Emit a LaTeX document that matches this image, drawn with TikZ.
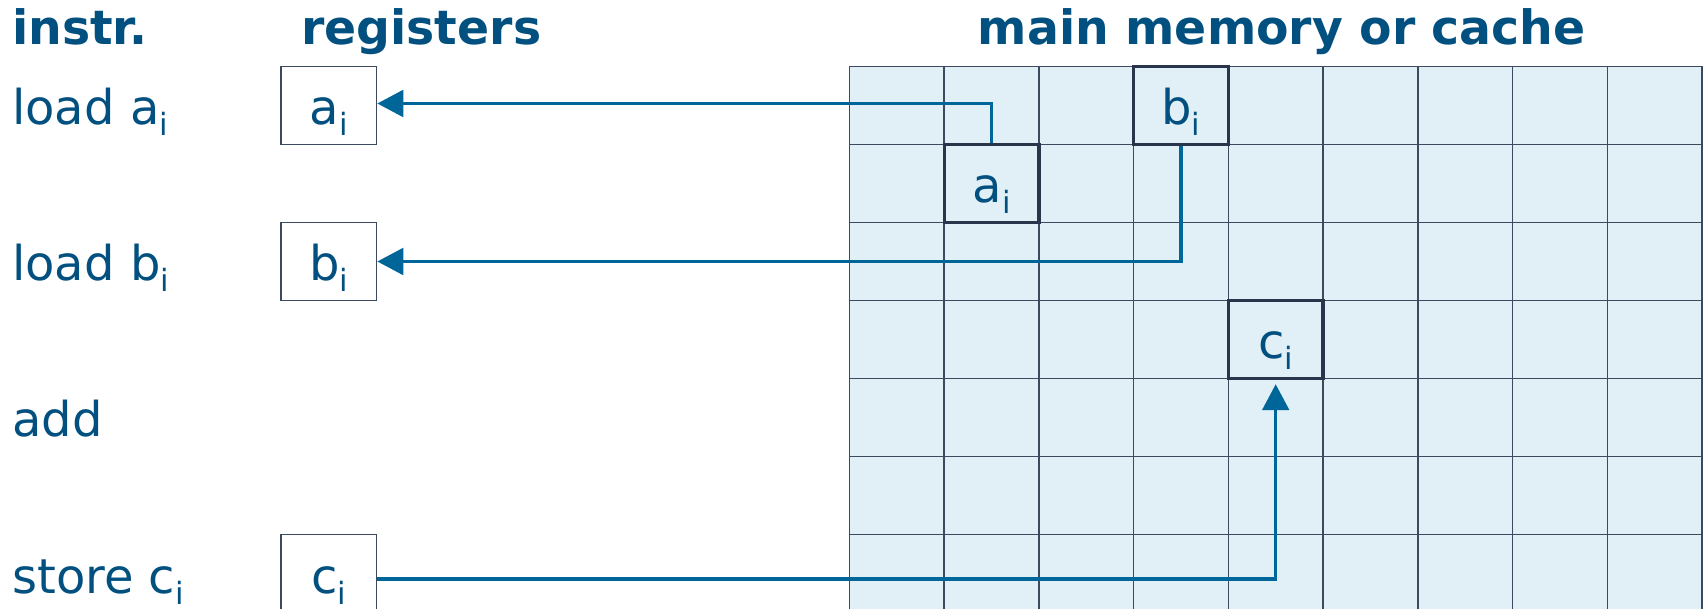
\documentclass[tikz,border=0pt]{standalone}
\usepackage{fontspec}
\setmainfont{DejaVu Sans}
\usetikzlibrary{arrows.meta}
\definecolor{txt}{HTML}{02507F}
\definecolor{arrc}{HTML}{00669A}
\definecolor{gridc}{HTML}{3B4A5E}
\definecolor{cellfill}{HTML}{E1F0F6}
\definecolor{hlc}{HTML}{28354A}
\newcommand{\subi}{\raisebox{-8.25pt}{\fontsize{23pt}{23pt}\selectfont i}}
\begin{document}
\begin{tikzpicture}[x=0.75pt,y=-0.75pt,
  lbl/.style={text=txt,font=\fontsize{36pt}{42pt}\selectfont,inner sep=0pt,anchor=base west},
  hdr/.style={text=txt,font=\fontsize{35.5pt}{42pt}\selectfont\bfseries,inner sep=0pt,anchor=base west},
  cellt/.style={text=txt,font=\fontsize{36pt}{42pt}\selectfont,inner sep=0pt,anchor=base},
  regbox/.style={draw=gridc,line width=1pt,fill=white,minimum width=71.8pt,minimum height=58.5pt,inner sep=0pt},
  hlcell/.style={draw=hlc,line width=2.6pt,minimum width=71.04pt,minimum height=58.5pt,inner sep=0pt},
  gridline/.style={draw=gridc,line width=1.1pt},
  conn/.style={draw=arrc,line width=2.5pt},
  tip/.style={-{Triangle[length=19.5pt,width=20pt]}}
]
\useasboundingbox (0,0) rectangle (1707,609);
\clip (0,0) rectangle (1707,609);

% memory grid
\fill[cellfill] (849.5,66.5) rectangle (1702,612.5);
\foreach \i in {0,...,9} \draw[gridline] ({849.5+\i*94.72},66.5) -- ({849.5+\i*94.72},612.5);
\foreach \j in {0,...,7} \draw[gridline] (849.5,{66.5+\j*78}) -- (1702,{66.5+\j*78});

% highlighted cells
\node[hlcell] (ga) at (991.6,183.5) {};
\node[hlcell] (gb) at (1181.0,105.5) {};
\node[hlcell] (gc) at (1275.7,339.5) {};

% registers
\node[regbox] (ra) at (328.8,105.5) {};
\node[regbox] (rb) at (328.8,261.5) {};
\node[regbox] (rc) at (328.8,573.5) {};

% connectors
\draw[conn,tip] (ga.north) |- ([yshift=1.5pt]ra.east);
\draw[conn,tip] (gb.south) |- (rb.east);
\draw[conn,tip] ([yshift=-4.1pt]rc.east) -| ([yshift=-3pt]gc.south);

% headings
\node[hdr] (h1) at (12,45) {instr.};
\node[hdr] (h2) at (301,45) {registers};
\node[hdr,anchor=base east] (h3) at (1586,45) {main memory or cache};

% instruction labels
\node[lbl] (l1) at (12,125) {load a\subi};
\node[lbl] (l2) at (12,281) {load b\subi};
\node[lbl] (l3) at (12,437) {add};
\node[lbl] (l4) at (12,593) {store c\subi};

% register texts
\node[cellt] (ta) at (328.8,125) {a\subi};
\node[cellt] (tb) at (328.8,281) {b\subi};
\node[cellt] (tc) at (328.8,593) {c\subi};

% memory texts
\node[cellt] (ma) at (991.6,203) {a\subi};
\node[cellt] (mb) at (1181.0,125) {b\subi};
\node[cellt] (mc) at (1275.7,359) {c\subi};
\end{tikzpicture}
\end{document}
